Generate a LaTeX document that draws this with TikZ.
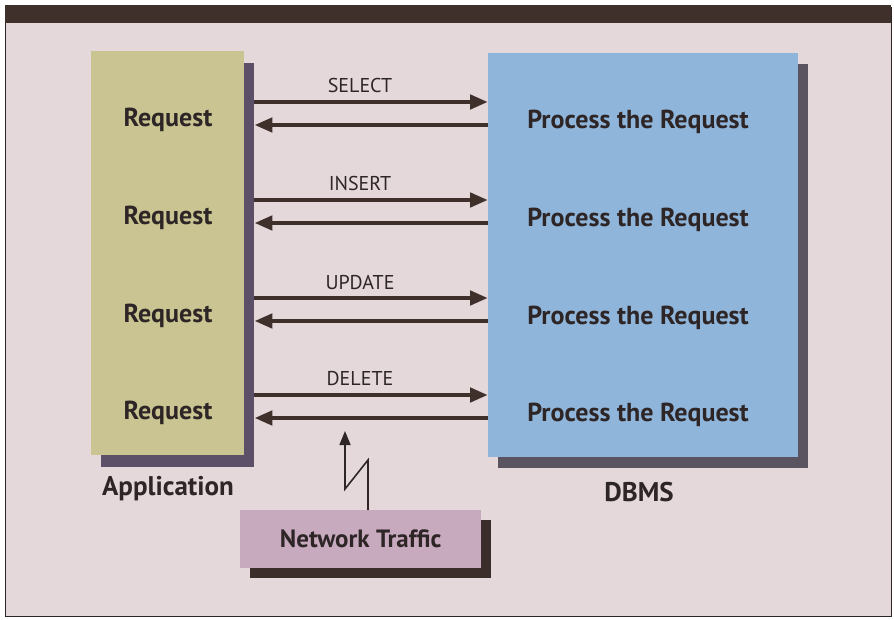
\documentclass[tikz,border=0pt]{standalone}
\usepackage{fontspec}
\setmainfont{PT Sans}
\usetikzlibrary{positioning,arrows.meta,shadows}
\definecolor{paper}{HTML}{E5D8DA}
\definecolor{ink}{HTML}{2E2626}
\definecolor{bar}{HTML}{3F302C}
\definecolor{appfill}{HTML}{C9C491}
\definecolor{appshade}{HTML}{5C5068}
\definecolor{dbfill}{HTML}{90B5DA}
\definecolor{dbshade}{HTML}{5A5460}
\definecolor{netfill}{HTML}{C8AABF}
\definecolor{netshade}{HTML}{3B2E2A}

\begin{document}
\begin{tikzpicture}[x=1pt,y=-1pt,
  block/.style={draw=none, inner sep=0pt, anchor=north west},
  appbox/.style={block, fill=appfill, minimum width=153pt, minimum height=404pt,
    drop shadow={shadow xshift=10pt, shadow yshift=-12pt, fill=appshade, opacity=1}},
  dbbox/.style={block, fill=dbfill, minimum width=310pt, minimum height=404pt,
    drop shadow={shadow xshift=10pt, shadow yshift=-11pt, fill=dbshade, opacity=1}},
  netbox/.style={block, fill=netfill, minimum width=241pt, minimum height=58pt,
    text=ink, font=\fontsize{25}{29}\selectfont\bfseries,
    drop shadow={shadow xshift=10pt, shadow yshift=-10pt, fill=netshade, opacity=1}},
  req/.style={text=ink, font=\fontsize{26}{30}\selectfont\bfseries},
  oplbl/.style={text=ink, font=\fontsize{20}{24}\selectfont},
  title/.style={text=ink, font=\fontsize{27}{31}\selectfont\bfseries},
  msg/.style={draw=bar, line width=4.5pt, -{Triangle[length=18pt,width=14pt]}},
  bolt/.style={draw=ink, line width=1.6pt, -{Triangle[length=14pt,width=11pt]}}
]
  \useasboundingbox (0,0) rectangle (894,620);
  % --- frame ---
  \fill[white] (0,0) rectangle (894,620);
  \filldraw[fill=paper, draw=ink, line width=1pt] (5,8) rectangle (891,616);
  \fill[bar] (5,5) rectangle (891,23);

  % --- the two sides ---
  \node[appbox] (app) at (91,51) {};
  \node[dbbox] (db) at (488,53) {};
  \coordinate (appedge) at ([xshift=10pt]app.east);

  \node[title] (applbl) at (168,489) {Application};
  \node[title] (dblbl) at (639,492) {DBMS};

  % --- requests and answers ---
  \foreach \i/\y/\op in {1/102/SELECT,2/200/INSERT,3/298/UPDATE,4/395/DELETE} {
    \path (0,\y) coordinate (go\i) (0,{\y+23}) coordinate (back\i);
    \node[req] (req\i) at (168,{\y+18}) {Request};
    \node[req] (proc\i) at (638,{\y+20}) {Process the Request};
    \node[oplbl] (op\i) at (360,{\y-16}) {\op};
    \draw[msg] (appedge |- go\i) -- (db.west |- go\i);
    \draw[msg] (db.west |- back\i) -- (appedge |- back\i);
  }

  % --- network traffic ---
  \node[netbox] (net) at (240,510) {Network Traffic};
  \path (368,0) coordinate (boltx);
  \draw[bolt] (boltx |- net.north) -- ++(0,-50) -- ++(-23,29) -- ++(0,-58);
\end{tikzpicture}
\end{document}
